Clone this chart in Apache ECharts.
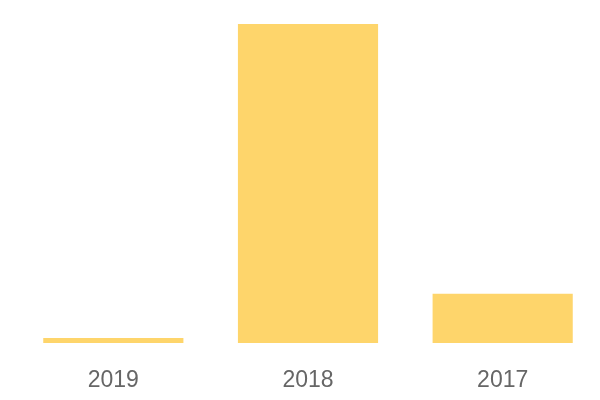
<!DOCTYPE html>
<html>
<head>
<meta charset="utf-8">
<script src="https://cdn.jsdelivr.net/npm/echarts@6/dist/echarts.min.js"></script>
<style>html,body{margin:0;padding:0;background:#fff}#c{width:600px;height:400px}</style>
</head>
<body>
<div id="c"></div>
<script>
const categories = ['2019', '2018', '2017'];
const values = [1.6, 100, 15.4];

const chart = echarts.init(document.getElementById('c'), null, {renderer: 'canvas'});
chart.setOption({
  animation: false,
  grid: {left: 16, right: 0, top: 24, bottom: 57, containLabel: false},
  xAxis: {
    type: 'category',
    data: categories,
    axisLine: {show: false},
    axisTick: {show: false},
    axisLabel: {color: '#666666', fontSize: 23, fontFamily: 'Liberation Sans, Arial, sans-serif', margin: 26}
  },
  yAxis: {type: 'value', show: false, min: 0, max: 'dataMax', splitLine: {show: false}},
  series: [{
    type: 'bar',
    data: values,
    barCategoryGap: '28%',
    itemStyle: {color: '#FED56B'}
  }]
});
</script>
</body>
</html>
